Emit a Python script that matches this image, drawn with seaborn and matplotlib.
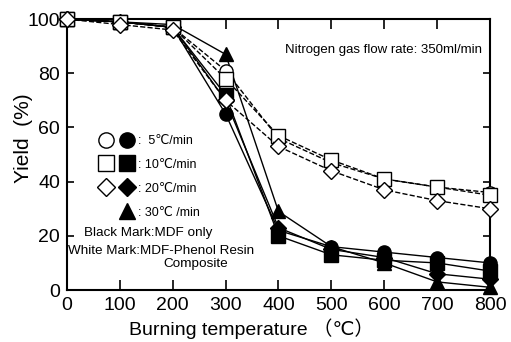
import matplotlib
matplotlib.use("Agg")
import matplotlib.pyplot as plt
import seaborn as sns
from matplotlib.lines import Line2D
from matplotlib.legend_handler import HandlerTuple

temps = [0, 100, 200, 300, 400, 500, 600, 700, 800]

# MDF-phenol resin composite (white marks, dashed)
white_5 = [100, 99, 97, 81, 56, 47, 41, 38, 36]
white_10 = [100, 99, 97, 78, 57, 48, 41, 38, 35]
white_20 = [100, 98, 96, 70, 53, 44, 37, 33, 30]

# MDF only (black marks, solid)
black_5 = [100, 99, 97, 65, 22, 16, 14, 12, 10]
black_10 = [100, 99, 97, 72, 20, 13, 11, 10, 7]
black_20 = [100, 99, 97, 70, 23, 15, 12, 6, 4]
black_30 = [100, 99, 98, 87, 29, 16, 10, 3, 1]

rate_labels = [":  5\u2103/min", ": 10\u2103/min", ": 20\u2103/min", ": 30\u2103 /min"]

sns.set_style("ticks")
plt.rcParams["font.family"] = ["Liberation Sans", "DejaVu Sans", "Noto Sans CJK JP"]
for k in ["text.color", "axes.labelcolor", "xtick.color", "ytick.color", "axes.edgecolor"]:
    plt.rcParams[k] = "black"

fig, ax = plt.subplots(figsize=(5.11, 3.42), dpi=100)
fig.subplots_adjust(left=0.131, right=0.959, top=0.944, bottom=0.152)

series = [
    (black_5, "o", "black", "-"),
    (black_10, "s", "black", "-"),
    (black_20, "D", "black", "-"),
    (black_30, "^", "black", "-"),
    (white_5, "o", "white", "--"),
    (white_10, "s", "white", "--"),
    (white_20, "D", "white", "--"),
]
for vals, mk, fc, ls in series:
    ms = 8 if mk == "D" else 9.5
    sns.lineplot(x=temps, y=vals, ax=ax, color="black", linestyle=ls, linewidth=1.0,
                 marker=mk, markersize=ms, markerfacecolor=fc,
                 markeredgecolor="black", markeredgewidth=1.0, clip_on=False, zorder=3)

ax.set_xlim(0, 800)
ax.set_ylim(0, 100)
ax.set_xticks(range(0, 801, 100))
ax.set_yticks(range(0, 101, 20))
ax.tick_params(direction="in", length=7, width=1.2, labelsize=14, pad=5,
               top=True, right=True)
ax.tick_params(axis="y", length=5)
for s in ax.spines.values():
    s.set_linewidth(1.5)

ax.set_xlabel("Burning temperature \uff08\u2103\uff09", fontsize=14)
ax.set_ylabel("Yield  (%)", fontsize=15)
ax.xaxis.set_label_coords(0.435, -0.105)
ax.yaxis.set_label_coords(-0.08, 0.56)

ax.text(0.515, 0.885, "Nitrogen gas flow rate: 350ml/min", transform=ax.transAxes,
        fontsize=9.5, ha="left", va="center")

def mk_handle(m, fc, ms):
    return Line2D([], [], linestyle="none", marker=m, markersize=ms,
                  markerfacecolor=fc, markeredgecolor="black", markeredgewidth=1.0)

blank = Line2D([], [], linestyle="none")
handles = [
    (mk_handle("o", "white", 11), mk_handle("o", "black", 11)),
    (mk_handle("s", "white", 11), mk_handle("s", "black", 11)),
    (mk_handle("D", "white", 9.5), mk_handle("D", "black", 9.5)),
    (blank, mk_handle("^", "black", 11)),
]
ax.legend(handles, rate_labels, handler_map={tuple: HandlerTuple(ndivide=None, pad=0.45)},
          loc="upper left", bbox_to_anchor=(0.055, 0.605), frameon=False,
          fontsize=9, handlelength=2.8, handletextpad=0.3, labelspacing=0.95,
          borderpad=0.2)

ax.text(0.04, 0.21, "Black Mark:MDF only", transform=ax.transAxes, fontsize=9.7,
        ha="left", va="center")
ax.text(0.003, 0.145, "White Mark:MDF-Phenol Resin", transform=ax.transAxes, fontsize=9.7,
        ha="left", va="center")
ax.text(0.305, 0.095, "Composite", transform=ax.transAxes, fontsize=9.7,
        ha="center", va="center")

fig.savefig("out.png", dpi=100)
